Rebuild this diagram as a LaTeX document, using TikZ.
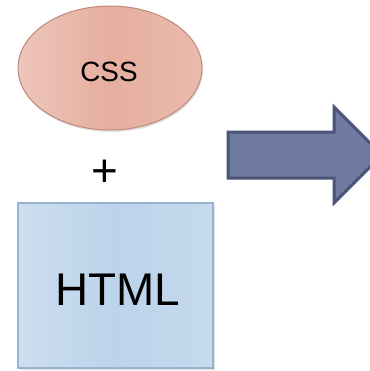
\documentclass[tikz,border=0pt]{standalone}
\usepackage{fontspec}
\setmainfont{Liberation Sans}
\usetikzlibrary{shapes.geometric,shadows}
\definecolor{cssfill}{HTML}{E6AE9F}
\definecolor{cssline}{HTML}{C0897A}
\definecolor{htmlfill}{HTML}{BCD3EA}
\definecolor{htmlline}{HTML}{98B4D2}
\definecolor{arrowfill}{HTML}{6F7AA0}
\definecolor{arrowline}{HTML}{4B5578}
\begin{document}
\begin{tikzpicture}[x=1bp,y=-1bp]
        \useasboundingbox (0,0) rectangle (370,371);
        \clip (0,0) rectangle (370,371);
        % CSS
        \node[ellipse,draw=cssline,line width=1bp,minimum width=184bp,minimum height=124bp,
              left color=cssfill!70!white,right color=cssfill!85!white,middle color=cssfill,
              drop shadow={opacity=0.25,shadow xshift=1bp,shadow yshift=-2bp}] (css) at (110,68) {};
        \node[font=\fontsize{28}{32}\selectfont] (csstext) at (109,72) {CSS};

        \node[font=\fontsize{46}{50}\selectfont] (plus) at (104.5,173) {+};

        % HTML
        \node[rectangle,draw=htmlline,line width=1.5bp,minimum width=195bp,minimum height=165bp,
              left color=htmlfill!75!white,right color=htmlfill!85!white,middle color=htmlfill,
              drop shadow={opacity=0.25,shadow xshift=2bp,shadow yshift=-2bp}] (html) at (115.5,285.5) {};
        \node[font=\fontsize{46}{50}\selectfont] (htmltext) at (118,290) {HTML};

        % Arrow
        \draw[arrowline,fill=arrowfill,line width=3bp,line join=miter]
            (228,132) -- (334,132) -- (334,107) -- (382,155) -- (334,203) -- (334,178) -- (228,178) -- cycle;
    \end{tikzpicture}
\end{document}
